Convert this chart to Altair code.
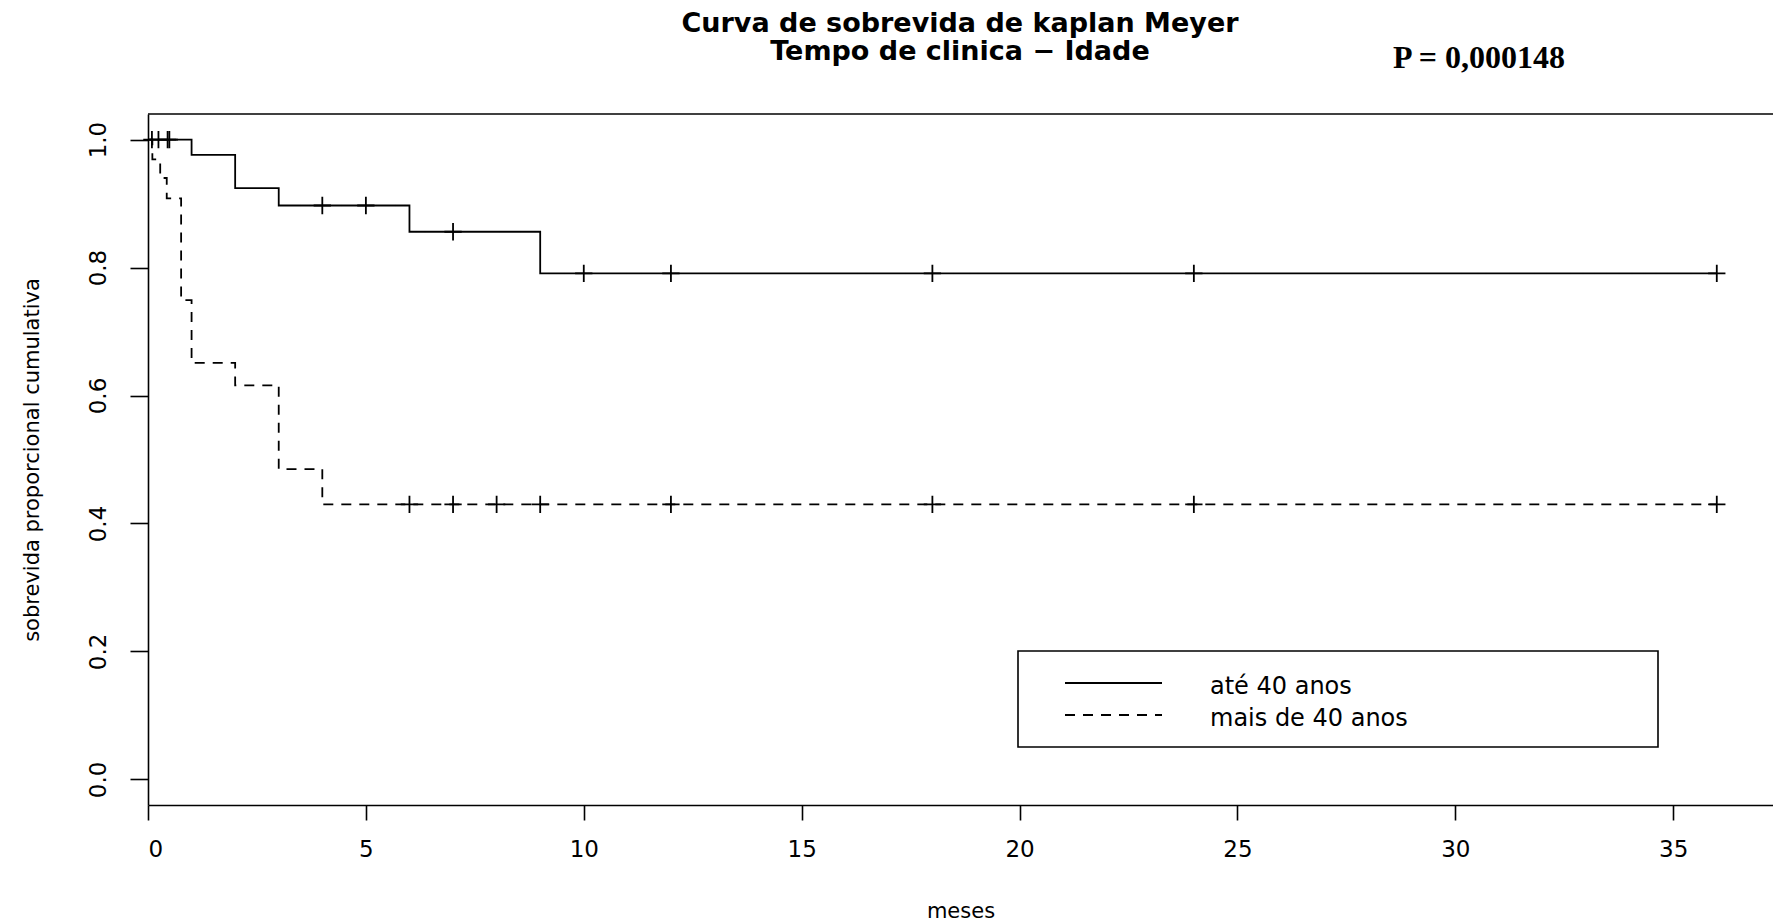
import altair as alt
import pandas as pd

# ---------------- data ----------------
group_a = "até 40 anos"
group_b = "mais de 40 anos"

a_times = [0, 1, 2, 3, 6, 9, 36]
a_surv = [1.0, 0.976, 0.924, 0.897, 0.856, 0.791, 0.791]
a_cens_t = [0.09, 0.24, 0.45, 0.49, 4, 5, 7, 10, 12, 18, 24, 36]
a_cens_s = [1.0, 1.0, 1.0, 1.0, 0.897, 0.897, 0.856, 0.791, 0.791, 0.791, 0.791, 0.791]

b_times = [0, 0.1, 0.28, 0.43, 0.76, 1, 2, 3, 4, 36]
b_surv = [1.0, 0.969, 0.940, 0.908, 0.749, 0.651, 0.616, 0.485, 0.430, 0.430]
b_cens_t = [6, 7, 8, 9, 12, 18, 24, 36]
b_cens_s = [0.430, 0.430, 0.430, 0.430, 0.430, 0.430, 0.430, 0.430]

x_ticks = [0, 5, 10, 15, 20, 25, 30, 35]
y_ticks = [0.0, 0.2, 0.4, 0.6, 0.8, 1.0]

title_line1 = "Curva de sobrevida de kaplan Meyer"
title_line2 = "Tempo de clinica \u2212 Idade"
p_text = "P = 0,000148"

# ---------------- tables ----------------
curves = pd.DataFrame({
    "t": a_times + b_times,
    "s": a_surv + b_surv,
    "grupo": [group_a] * len(a_times) + [group_b] * len(b_times),
})
cens = pd.DataFrame({
    "t": a_cens_t + b_cens_t,
    "s": a_cens_s + b_cens_s,
    "grupo": [group_a] * len(a_cens_t) + [group_b] * len(b_cens_t),
})
one = pd.DataFrame({"k": [0]})

W, H = 1625, 691
FONT = "DejaVu Sans"

xscale = alt.Scale(domain=[0, 37.29], nice=False, zero=False)
yscale = alt.Scale(domain=[-0.04, 1.04], nice=False, zero=False)
dash_scale = alt.Scale(domain=[group_a, group_b], range=[[1, 0], [10, 8]])

x_axis = alt.Axis(values=x_ticks, format="d", grid=False,
                  domainColor="black", domainWidth=1.6,
                  tickColor="black", tickWidth=1.6, tickSize=15,
                  labelFont=FONT, labelFontSize=23, labelColor="black", labelPadding=18,
                  title="meses", titleFont=FONT, titleFontSize=21, titleFontWeight="normal",
                  titleColor="black", titleY=112, titleBaseline="alphabetic")
y_axis = alt.Axis(values=y_ticks, format=".1f", grid=False,
                  domainColor="black", domainWidth=1.6,
                  tickColor="black", tickWidth=1.6, tickSize=18,
                  labelFont=FONT, labelFontSize=23, labelColor="black", labelPadding=20,
                  labelAngle=270, labelAlign="center", labelBaseline="bottom",
                  title="sobrevida proporcional cumulativa", titleFont=FONT, titleFontSize=21,
                  titleFontWeight="normal", titleColor="black", titleX=-116, titleY=H / 2,
                  titleBaseline="middle", titleAngle=270)

lines = alt.Chart(curves).mark_line(interpolate="step-after", color="black", strokeWidth=1.8).encode(
    x=alt.X("t:Q", scale=xscale, axis=x_axis),
    y=alt.Y("s:Q", scale=yscale, axis=y_axis),
    strokeDash=alt.StrokeDash("grupo:N", scale=dash_scale, legend=None),
)

marks = alt.Chart(cens).mark_point(shape="M-1,0L1,0M0,-1L0,1", size=300, filled=False,
                                   stroke="black", strokeWidth=1.8, opacity=1).encode(
    x=alt.X("t:Q", scale=xscale),
    y=alt.Y("s:Q", scale=yscale),
)

top_border = alt.Chart(one).mark_rule(color="black", strokeWidth=1.6).encode(
    x=alt.value(0), x2=alt.value(W), y=alt.value(0))

legend_box = alt.Chart(one).mark_rect(fill="white", stroke="black", strokeWidth=1.6).encode(
    x=alt.value(870), x2=alt.value(1510), y=alt.value(537), y2=alt.value(633))
leg_a = alt.Chart(one).mark_rule(color="black", strokeWidth=1.8).encode(
    x=alt.value(917), x2=alt.value(1014), y=alt.value(569))
leg_b = alt.Chart(one).mark_rule(color="black", strokeWidth=1.8, strokeDash=[10, 8]).encode(
    x=alt.value(917), x2=alt.value(1014), y=alt.value(601))
leg_ta = alt.Chart(one).mark_text(text=group_a, font=FONT, fontSize=24, color="black",
                                  align="left", baseline="middle").encode(
    x=alt.value(1062), y=alt.value(573))
leg_tb = alt.Chart(one).mark_text(text=group_b, font=FONT, fontSize=24, color="black",
                                  align="left", baseline="middle").encode(
    x=alt.value(1062), y=alt.value(605))

t1 = alt.Chart(one).mark_text(text=title_line1, font=FONT, fontSize=27, fontWeight="bold",
                              color="black", align="center", baseline="alphabetic").encode(
    x=alt.value(812), y=alt.value(-82))
t2 = alt.Chart(one).mark_text(text=title_line2, font=FONT, fontSize=27, fontWeight="bold",
                              color="black", align="center", baseline="alphabetic").encode(
    x=alt.value(812), y=alt.value(-54))

ptxt = alt.Chart(one).mark_text(text=p_text, font="Liberation Serif", fontSize=32, fontWeight="bold",
                                color="black", align="left", baseline="alphabetic").encode(
    x=alt.value(1245), y=alt.value(-46))

chart = alt.layer(top_border, lines, marks, legend_box, leg_a, leg_b, leg_ta, leg_tb,
                  t1, t2, ptxt).properties(
    width=W, height=H,
    padding={"left": 148, "top": 114, "right": 0, "bottom": 117},
    autosize=alt.AutoSizeParams(type="none"),
    background="white",
).configure_view(strokeWidth=0)

chart.save("out.html", embed_options={"renderer": "svg", "actions": False})
